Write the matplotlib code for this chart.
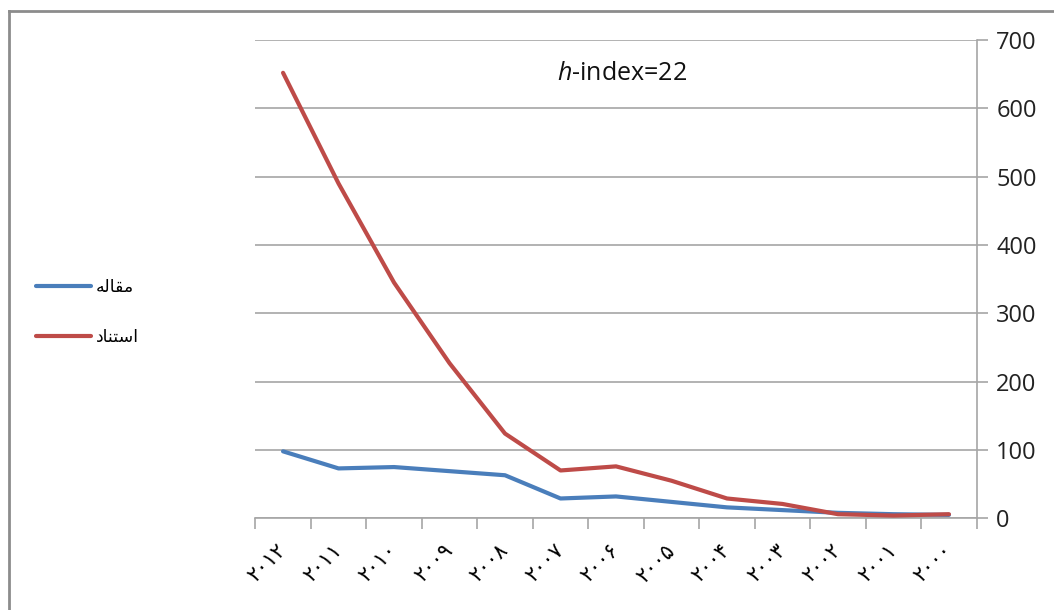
import matplotlib
matplotlib.use("Agg")
import matplotlib.pyplot as plt
from matplotlib.lines import Line2D

# ---- data ----
years = ["\u06F2\u06F0\u06F1\u06F2", "\u06F2\u06F0\u06F1\u06F1", "\u06F2\u06F0\u06F1\u06F0",
         "\u06F2\u06F0\u06F0\u06F9", "\u06F2\u06F0\u06F0\u06F8", "\u06F2\u06F0\u06F0\u06F7",
         "\u06F2\u06F0\u06F0\u06F6", "\u06F2\u06F0\u06F0\u06F5", "\u06F2\u06F0\u06F0\u06F4",
         "\u06F2\u06F0\u06F0\u06F3", "\u06F2\u06F0\u06F0\u06F2", "\u06F2\u06F0\u06F0\u06F1",
         "\u06F2\u06F0\u06F0\u06F0"]
papers = [98, 73, 75, 69, 63, 29, 32, 24, 16, 12, 8, 6, 5]
citations = [652, 490, 345, 227, 124, 70, 76, 55, 29, 21, 6, 4, 6]
# visual-order presentation forms of "مقاله" and "استناد"
label_papers = "\uFEEA\uFEDF\uFE8E\uFED8\uFEE3"
label_citations = "\uFEA9\uFE8E\uFEE8\uFE98\uFEB3\uFE8D"
yticks = [0, 100, 200, 300, 400, 500, 600, 700]
annotation = "$\\mathit{h}$-index=22"

plt.rcParams['mathtext.fontset'] = 'custom'
plt.rcParams['mathtext.it'] = 'Open Sans:italic'
plt.rcParams['mathtext.rm'] = 'Open Sans'

W, H = 1054, 610
fig = plt.figure(figsize=(W / 100, H / 100), dpi=100)
ax = fig.add_axes([255.3 / W, 1 - 518.3 / H, (976.7 - 255.3) / W, (518.3 - 40) / H])

blue = "#4A7EBB"
red = "#BE4B48"
x = list(range(len(years)))
ax.plot(x, papers, color=blue, lw=3.0, solid_capstyle='round', label=label_papers, zorder=3)
ax.plot(x, citations, color=red, lw=3.0, solid_capstyle='round', label=label_citations, zorder=3)

ax.set_xlim(-0.5, len(years) - 0.5)
ax.set_ylim(0, 700)
ax.set_yticks(yticks)
ax.yaxis.tick_right()
ax.grid(axis='y', color="#A6A6A6", lw=1.2)
ax.set_axisbelow(True)

for s in ['left', 'top']:
    ax.spines[s].set_visible(False)
for s in ['right', 'bottom']:
    ax.spines[s].set_color("#A6A6A6")
    ax.spines[s].set_linewidth(1.2)

ax.set_yticklabels([str(v) for v in yticks], fontsize=17, family='Open Sans', color='#222222')
ax.tick_params(axis='y', direction='out', length=8, width=1.2, color="#A6A6A6", pad=6)

ax.set_xticks(x)
ax.set_xticklabels(years, rotation=45, rotation_mode='anchor', ha='right', va='center',
                   fontsize=15, family='DejaVu Sans')
ax.tick_params(axis='x', length=0, pad=21)
ax.set_xticks([i - 0.5 for i in range(len(years) + 1)], minor=True)
ax.tick_params(axis='x', which='minor', direction='out', length=8, width=1.2, color="#A6A6A6")

ax.text(0.508, 0.93, annotation, transform=ax.transAxes, fontsize=18, family='Open Sans',
        ha='center', va='center', color='#111111')

fig.legend(loc='center left', bbox_to_anchor=(27 / W, 1 - 312 / H), frameon=False,
           handlelength=3.2, labelspacing=1.85, handletextpad=0.25, borderpad=0,
           prop={'family': 'DejaVu Sans', 'size': 12.5})

# outer chart border (top and left visible)
fig.add_artist(Line2D([9 / W, 1], [1 - 10.5 / H, 1 - 10.5 / H], transform=fig.transFigure,
                      color="#8C8C8C", lw=2))
fig.add_artist(Line2D([9 / W, 9 / W], [0, 1 - 10.5 / H], transform=fig.transFigure,
                      color="#8C8C8C", lw=2))

fig.savefig("out.png", dpi=100)
